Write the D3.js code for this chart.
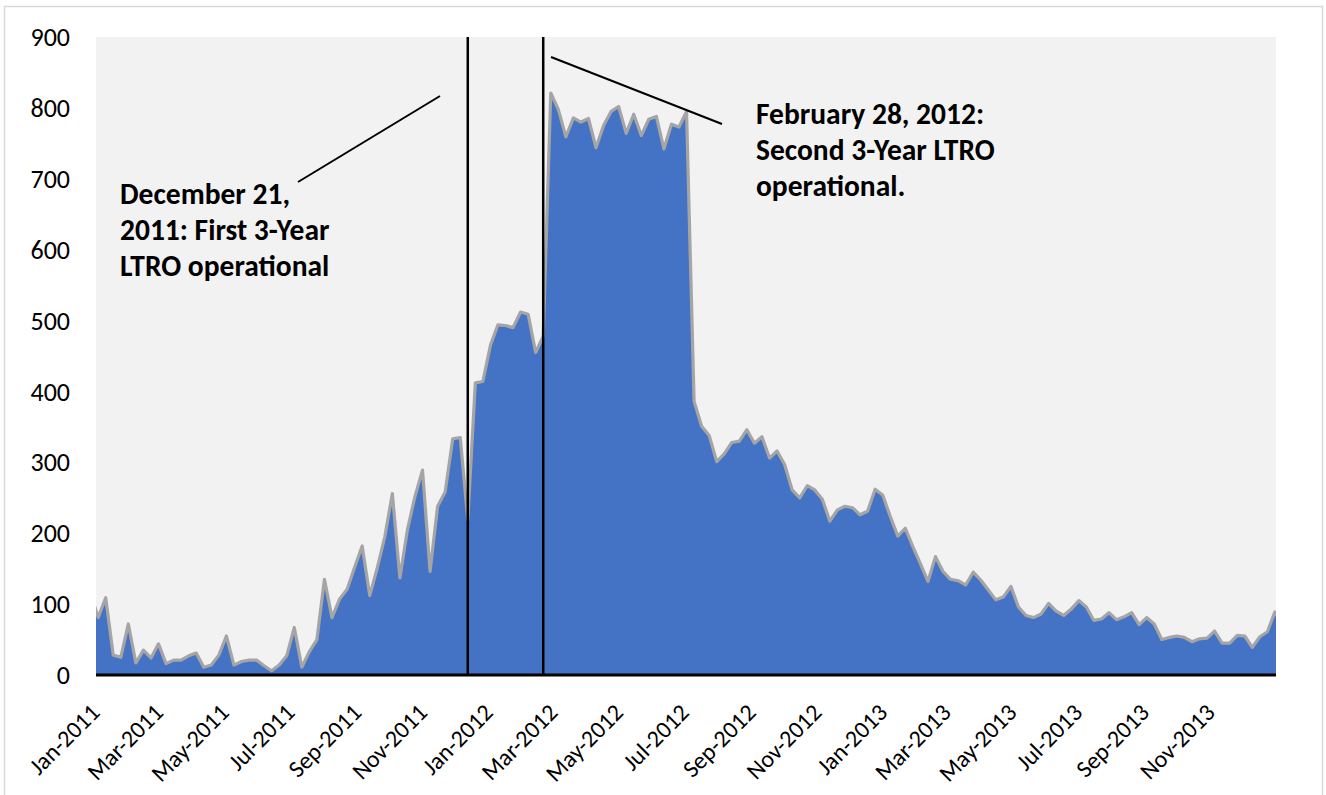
<!DOCTYPE html>
<html>
<head>
<meta charset="utf-8">
<script src="https://cdn.jsdelivr.net/npm/d3@7"></script>
<style>
  body { margin: 0; background: #ffffff; }
  text { font-family: Carlito, Calibri, "Open Sans", sans-serif; }
</style>
</head>
<body>
<script>
// weekly values (EUR bn), one per week starting Mon 27 Dec 2010
var startDate = "2010-12-27";
var values = [115,
  81,109,28,25,72,17,35,24,44,16,21,21,27,31,11,14,28,55,14,19,
  21,21,13,6,14,27,67,11,33,50,135,81,107,121,152,182,112,151,195,256,
  137,205,252,289,146,238,258,333,335,219,412,414,465,494,493,490,512,509,455,478,
  821,798,759,786,780,785,744,775,795,802,764,791,761,784,788,742,777,773,795,386,
  351,338,301,312,328,330,346,327,336,306,316,297,261,250,267,261,248,217,233,238,
  236,226,231,262,254,224,196,207,181,157,132,167,146,135,133,127,145,134,120,106,
  110,125,96,84,81,86,101,90,84,93,105,96,77,79,88,78,82,88,71,81,
  72,50,53,55,53,47,51,52,62,45,45,56,55,39,54,61,89,69];

var yTicks = [0,100,200,300,400,500,600,700,800,900];
var xTickDates = ["2011-01-01","2011-03-01","2011-05-01","2011-07-01","2011-09-01","2011-11-01",
  "2012-01-01","2012-03-01","2012-05-01","2012-07-01","2012-09-01","2012-11-01",
  "2013-01-01","2013-03-01","2013-05-01","2013-07-01","2013-09-01","2013-11-01"];

var eventDates = ["2011-12-12","2012-02-20"];
var note1 = ["December 21,","2011: First 3-Year","LTRO operational"];
var note2 = ["February 28, 2012:","Second 3-Year LTRO","operational."];

var parse = d3.timeParse("%Y-%m-%d");
var t0 = parse(startDate);
var data = values.map(function(v,i){
  return {date: d3.timeDay.offset(t0, 7*i), value: v};
});

var width = 1326, height = 795;
var plotLeft = 96, plotRight = 1276, plotTop = 37, plotBottom = 675;

var svg = d3.select("body").append("svg")
  .attr("width", width).attr("height", height);

// outer frame
svg.append("rect")
  .attr("x", 4.5).attr("y", 6.5).attr("width", 1318).attr("height", 800)
  .attr("fill", "#ffffff").attr("stroke", "#d9d9d9").attr("stroke-width", 1.5);

var x = d3.scaleTime()
  .domain([parse("2011-01-01"), parse("2013-12-31")])
  .range([plotLeft, plotRight]);
var y = d3.scaleLinear().domain([0, 900]).range([plotBottom, plotTop]);

svg.append("rect")
  .attr("x", plotLeft).attr("y", plotTop)
  .attr("width", plotRight-plotLeft).attr("height", plotBottom-plotTop)
  .attr("fill", "#f2f2f2");

svg.append("clipPath").attr("id","plotclip")
  .append("rect").attr("x", plotLeft).attr("y", plotTop-5)
  .attr("width", plotRight-plotLeft).attr("height", plotBottom-plotTop+5);

var area = d3.area()
  .x(function(d){ return x(d.date); })
  .y0(y(0))
  .y1(function(d){ return y(d.value); });
var line = d3.line()
  .x(function(d){ return x(d.date); })
  .y(function(d){ return y(d.value); });

var g = svg.append("g").attr("clip-path","url(#plotclip)");
g.append("path").attr("d", area(data)).attr("fill", "#4472c4");
g.append("path").attr("d", line(data))
  .attr("fill","none").attr("stroke","#a5a5a5").attr("stroke-width",3.2)
  .attr("stroke-linejoin","round");

// y axis labels
svg.selectAll(".ytick").data(yTicks).enter().append("text")
  .attr("class","ytick")
  .attr("x", 70).attr("y", function(d){ return y(d); })
  .attr("dy","0.35em").attr("text-anchor","end")
  .attr("font-size", 26).attr("fill","#000")
  .text(function(d){ return d; });

// x axis baseline
svg.append("line")
  .attr("x1", plotLeft).attr("x2", plotRight).attr("y1", plotBottom).attr("y2", plotBottom)
  .attr("stroke","#000").attr("stroke-width",3);

var fmt = d3.timeFormat("%b-%Y");
svg.selectAll(".xtick").data(xTickDates).enter().append("text")
  .attr("class","xtick")
  .attr("text-anchor","end")
  .attr("font-size", 24)
  .attr("transform", function(d){
    return "translate(" + (x(parse(d))+5) + "," + 714 + ") rotate(-45)";
  })
  .text(function(d){ return fmt(parse(d)); });

// event lines
svg.selectAll(".event").data(eventDates).enter().append("line")
  .attr("x1", function(d){ return x(parse(d)); })
  .attr("x2", function(d){ return x(parse(d)); })
  .attr("y1", plotTop).attr("y2", plotBottom)
  .attr("stroke","#000").attr("stroke-width",2.5);

// callout lines
svg.append("line").attr("x1",298).attr("y1",182).attr("x2",440).attr("y2",96)
  .attr("stroke","#000").attr("stroke-width",2);
svg.append("line").attr("x1",551).attr("y1",57).attr("x2",722).attr("y2",124)
  .attr("stroke","#000").attr("stroke-width",2);

function note(lines, x0, y0){
  svg.append("g").selectAll("text").data(lines).enter().append("text")
    .attr("x", x0).attr("y", function(d,i){ return y0 + i*36; })
    .attr("font-size", 29.5).attr("font-weight","bold")
    .text(function(d){ return d; });
}
note(note1, 120, 204);
note(note2, 756, 124);
</script>
</body>
</html>
